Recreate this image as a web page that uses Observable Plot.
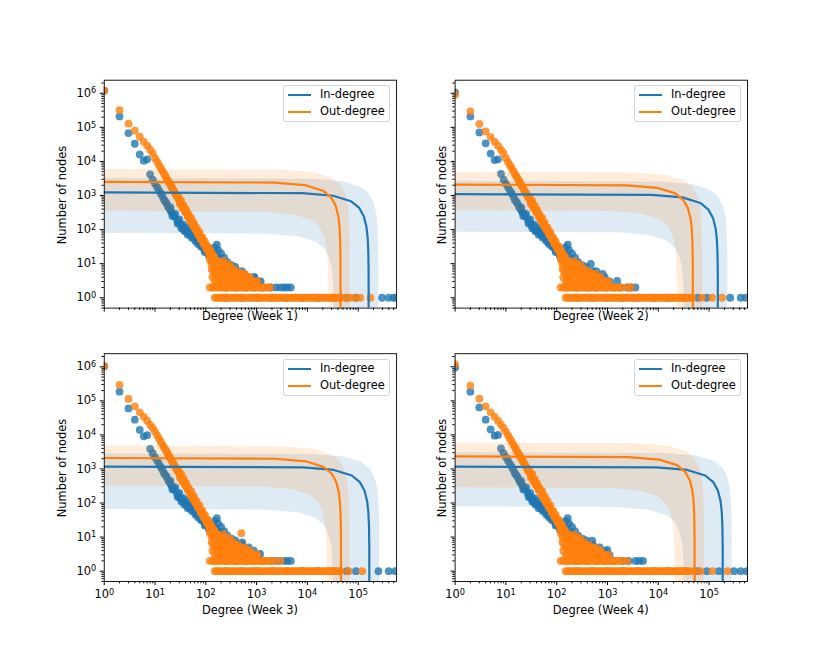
<!DOCTYPE html>
<html>
<head>
<meta charset="utf-8">
<script src="https://cdn.jsdelivr.net/npm/d3@7"></script>
<script src="https://cdn.jsdelivr.net/npm/@observablehq/plot@0.6"></script>
<style>
  html, body { margin: 0; padding: 0; background: #ffffff; }
  #fig { position: relative; width: 830px; height: 664px; overflow: hidden; font-family: "DejaVu Sans", sans-serif; color: #000; background: #fff; }
  #fig svg { position: absolute; }
  .lab { position: absolute; font-size: 11.4px; line-height: 1; white-space: nowrap; transform: translate(-50%, -50%); }
  .ylab { transform: translate(-50%, -50%) rotate(-90deg); }
  .legend { position: absolute; width: 107px; height: 37px; box-sizing: border-box; border: 1px solid rgba(204,204,204,0.8); border-radius: 3px; background: rgba(255,255,255,0.8); font-size: 11.4px; }
  .legend .sw { position: absolute; left: 3.5px; width: 23px; height: 2px; }
  .legend .tx { position: absolute; left: 36px; line-height: 1; transform: translateY(-50%); white-space: nowrap; }
</style>
</head>
<body>
<div id="fig"></div>
<script>
// ---------------- tick values and labels ----------------
const xMajor = [1, 10, 100, 1000, 10000, 100000];
const xMajorLabels = ["10⁰", "10¹", "10²", "10³", "10⁴", "10⁵"];
const xMinor = [2,3,4,5,6,7,8,9, 20,30,40,50,60,70,80,90, 200,300,400,500,600,700,800,900,
  2000,3000,4000,5000,6000,7000,8000,9000, 20000,30000,40000,50000,60000,70000,80000,90000,
  200000,300000,400000,500000];
const yMajor = [1, 10, 100, 1000, 10000, 100000, 1000000];
const yMajorLabels = ["10⁰", "10¹", "10²", "10³", "10⁴", "10⁵", "10⁶"];
const yMinor = [0.5,0.6,0.7,0.8,0.9, 2,3,4,5,6,7,8,9, 20,30,40,50,60,70,80,90,
  200,300,400,500,600,700,800,900, 2000,3000,4000,5000,6000,7000,8000,9000,
  20000,30000,40000,50000,60000,70000,80000,90000, 200000,300000,400000,500000,600000,700000,800000,900000, 2000000];
const xDomain = [1, 570000];
const yDomain = [0.497, 2420000];

const weekLabels = ["Degree (Week 1)", "Degree (Week 2)", "Degree (Week 3)", "Degree (Week 4)"];
const seriesNames = ["In-degree", "Out-degree"];
const yTitle = "Number of nodes";

// ---------------- scatter data: [degree, number of nodes] ----------------
const inHeadW1 = [[1,1.2e6],[2,2.1e5],[3,6.8e4],[4,3.3e4],[5,1.6e4],[6,1.05e4],[7,1.15e4],[8,4200]];
const inHeadW2 = [[1,1.07e6],[2,2.1e5],[3,7.1e4],[4,3.4e4],[5,1.7e4],[6,1.1e4],[7,1.15e4],[8,4300]];
const inHeadW3 = [[1,1.03e6],[2,1.86e5],[3,6.0e4],[4,2.8e4],[5,1.4e4],[6,9100],[7,9800],[8,3900]];
const inHeadW4 = [[1,9.6e5],[2,1.86e5],[3,6.4e4],[4,2.8e4],[5,1.45e4],[6,9500],[7,1.0e4],[8,4000]];

const outHeadW1 = [[1,1.2e6],[2,3.2e5],[3,1.28e5],[4,8e4],[5,5.3e4],[6,3.8e4],[7,2.9e4],[8,2.2e4],[9,1.75e4]];
const outHeadW2 = [[1,9.1e5],[2,2.95e5],[3,1.26e5],[4,7.6e4],[5,5.2e4],[6,3.8e4],[7,2.9e4],[8,2.2e4],[9,1.75e4]];
const outHeadW3 = [[1,1.05e6],[2,2.94e5],[3,1.14e5],[4,6.9e4],[5,4.6e4],[6,3.4e4],[7,2.6e4],[8,2.0e4],[9,1.6e4]];
const outHeadW4 = [[1,1.2e6],[2,2.8e5],[3,1.15e5],[4,6.9e4],[5,4.6e4],[6,3.4e4],[7,2.6e4],[8,2.0e4],[9,1.6e4]];

const inBody = [[9,2900],[10,2200],[11,1750],[12,1400],[13,1150],[14,950],[15,750],[16,660],[17,580],[18,480],[19,420],[20,380],[21,330],[22,300],[24,250],[27,190],[29,165],[31,145],[33,130],[35,115],[37,105],[40,95],[43,88],[45,82],[48,76],[50,72],[53,67],[56,62],[60,57],[63,52],[67,48],[70,45],[74,41],[78,38],[82,34],[87,31],[92,28],[97,26],[102,23],[108,21],[114,19],[120,17],[128,15],[135,14],[143,13],[150,12],[160,11],[170,10],[180,9],[190,8],[200,8],[215,7],[240,6],[270,5],[300,4],[340,4],[380,3]];
const inSpread = [[20,450],[22,250],[25,290],[28,150],[30,200],[33,110],[36,140],[38,90],[42,115],[44,70],[48,95],[53,58],[58,75],[62,46],[66,62],[70,38],[74,52],[80,32],[90,40],[95,22],[100,32],[110,27],[115,17],[125,24],[132,13],[140,22],[150,30],[158,17],[165,36],[175,25],[185,14],[200,20],[210,12],[230,15],[250,9],[265,11],[290,8],[320,9],[350,7],[380,8],[420,6],[460,5],[510,6],[560,5],[620,4],[700,4],[780,3],[880,4],[980,3],[1100,3]];
const inExtraW1 = [[900,4],[1200,3]];
const inExtraW2 = [[470,9.8],[1550,3.1],[600,6],[800,5]];
const inExtraW3 = [[520,7],[1170,3.2],[700,5]];
const inExtraW4 = [[500,7.9],[990,4.2],[700,5]];

const outBody = [[10,12500],[11,9750],[12,7780],[13,6320],[14,5210],[15,4350],[16,3680],[17,3150],[18,2710],[19,2360],[20,2060],[21,1820],[22,1610],[23,1435],[24,1283],[25,1154],[26,1042],[27,945],[28,860],[30,719],[32,608],[34,519],[36,447],[38,389],[40,340],[42,300],[45,251],[48,212],[51,181],[54,156],[57,135],[60,118],[64,100],[68,86],[72,74],[77,62],[82,53],[88,44],[94,37],[100,31],[107,26],[114,22],[122,19],[130,16],[139,13],[149,11],[160,9]];
const outSpread = [[29,900],[31,560],[33,700],[35,430],[37,500],[39,330],[41,380],[44,240],[46,280],[50,175],[52,220],[56,130],[58,160],[62,100],[66,115],[70,72],[75,85],[80,52],[85,60],[90,38],[96,45],[104,27],[110,32],[118,18],[126,23],[135,12],[145,16]];
const outCloud = [[110,30],[118,25],[126,21],[135,18],[145,15],[155,13],[165,12],[178,11],[190,10],[205,9],[220,12],[235,8],[250,10],[265,8],[285,7],[300,9],[320,6],[345,7],[370,6],[400,5],[430,6],[465,5],[500,5],[540,4],[580,5],[630,4],[680,4],[740,4],[800,3],[870,3],[950,3],[1050,3],
  [120,13],[130,10],[140,12],[150,9],[160,8],[175,7],[190,8],[205,6],[220,7],[240,6],[260,6],[280,5],[300,5],[330,5],[360,4],[390,4],[420,4],[460,4],[500,3],[550,3],[600,3],[650,3],[700,3],
  [130,7],[140,6],[150,5],[165,5],[180,4],[195,5],[210,4],[225,4],[245,4],[265,3],[285,4],[310,3],[340,3],[370,3],[400,3],[440,3],
  [135,4],[150,3],[165,3],[180,3],[200,3],[220,3],[240,3]];
const outExtraW3 = [[500,13],[810,3.2],[1000,3]];

// degrees with exactly two nodes
const inTwosW1 = [250,400,600,900,1300,1900,2400,2950,3500,4000,4700];
const inTwosW2 = [250,400,600,900,1300,1800,2450,2900,3550];
const inTwosW3 = [250,400,600,900,1300,2000,2600,3400,4000,4700];
const inTwosW4 = [250,400,600,900,1300,2000,2600,3550,4200,5000];
const outTwosBody = [120,135,150,165,180,200,220,245,270,300,330,365,400,445,490,540,600,660,730,810,900,1000,1100,1220,1350,1500,1650];
const outTwosW1 = [1850];
const outTwosW2 = [1900,2450,2900];
const outTwosW3 = [1900,2300,2950];
const outTwosW4 = [1950,2450];

// degrees with exactly one node
const inOnesBody = [250,500,1000,2000,4000,8000,16000,32000,60000,90000];
const inOnesW1 = [295000,400000,500000,570000];
const inOnesW2 = [260000,420000,530000];
const inOnesW3 = [250000,400000,540000];
const inOnesW4 = [155000,310000,420000,560000];
const outOnesBody = [150,165,182,200,220,242,266,293,322,354,390,429,472,519,571,628,690,760,835,920,1010,1110,1220,1345,1480,1630,1790,1970,2170,2380,2620,2880,3170,3490,3840,4220,4640,5110,5620,6180,6800,7480,8220,9050,9950,10950,12050,13250,14600,16000,17600,19400,21300,23500,25800,28400,31200,34400,37800,41600];
const outOnesW1 = [46000,57000,70000,87000,110000,174000];
const outOnesW2 = [47000,73000,115000,180000];
const outOnesW3 = [45000,65000,120000];
const outOnesW4 = [50000,68000,115000,230000];

// ---------------- regression fit lines and confidence bands ----------------
const inFitW1 = [[1,1230],[8050,1169],[32200,984],[72450,677],[104650,431],[128800,246],[144900,123],[152950,61.5],[157780,24.6],[160195,6.2],[161000,0.01]];
const inLoW1 = [[1,80],[1650,76],[6600,64],[14850,44],[21450,28],[26400,16],[29700,8],[31350,4],[32340,1.6],[32835,0.4],[33000,0.01]];
const inHiW1 = [[1,3250],[12500,3088],[50000,2600],[112500,1788],[162500,1138],[200000,650],[225000,325],[237500,163],[245000,65],[248750,16],[250000,0.01]];
const outFitW1 = [[1,2520],[2250,2394],[9000,2016],[20250,1386],[29250,882],[36000,504],[40500,252],[42750,126],[44100,50],[44775,12.6],[45000,0.01]];
const outLoW1 = [[1,350],[1300,333],[5200,280],[11700,193],[16900,123],[20800,70],[23400,35],[24700,17.5],[25480,7],[25870,1.75],[26000,0.01]];
const outHiW1 = [[1,6000],[3400,5700],[13600,4800],[30600,3300],[44200,2100],[54400,1200],[61200,600],[64600,300],[66640,120],[67660,30],[68000,0.01]];

const inFitW2 = [[1,1100],[7450,1045],[29800,880],[67050,605],[96850,385],[119200,220],[134100,110],[141550,55],[146020,22],[148255,5.5],[149000,0.01]];
const inLoW2 = [[1,87],[1600,83],[6400,70],[14400,48],[20800,30],[25600,17],[28800,8.7],[30400,4.4],[31360,1.7],[31840,0.44],[32000,0.01]];
const inHiW2 = [[1,2700],[11500,2565],[46000,2160],[103500,1485],[149500,945],[184000,540],[207000,270],[218500,135],[225400,54],[228850,13.5],[230000,0.01]];
const outFitW2 = [[1,2100],[2400,1995],[9600,1680],[21600,1155],[31200,735],[38400,420],[43200,210],[45600,105],[47040,42],[47760,10.5],[48000,0.01]];
const outLoW2 = [[1,370],[1175,352],[4700,296],[10575,204],[15275,130],[18800,74],[21150,37],[22325,18.5],[23030,7.4],[23383,1.85],[23500,0.01]];
const outHiW2 = [[1,5000],[3650,4750],[14600,4000],[32850,2750],[47450,1750],[58400,1000],[65700,500],[69350,250],[71540,100],[72635,25],[73000,0.01]];

const inFitW3 = [[1,1170],[8300,1112],[33200,936],[74700,644],[107900,410],[132800,234],[149400,117],[157700,58.5],[162680,23.4],[165170,5.85],[166000,0.01]];
const inLoW3 = [[1,67],[1600,64],[6400,54],[14400,37],[20800,23],[25600,13.4],[28800,6.7],[30400,3.4],[31360,1.3],[31840,0.34],[32000,0.01]];
const inHiW3 = [[1,2900],[13000,2755],[52000,2320],[117000,1595],[169000,1015],[208000,580],[234000,290],[247000,145],[254800,58],[258700,14.5],[260000,0.01]];
const outFitW3 = [[1,2100],[2300,1995],[9200,1680],[20700,1155],[29900,735],[36800,420],[41400,210],[43700,105],[45080,42],[45770,10.5],[46000,0.01]];
const outLoW3 = [[1,325],[1200,309],[4800,260],[10800,179],[15600,114],[19200,65],[21600,32.5],[22800,16.3],[23520,6.5],[23880,1.6],[24000,0.01]];
const outHiW3 = [[1,4850],[3350,4608],[13400,3880],[30150,2668],[43550,1698],[53600,970],[60300,485],[63650,243],[65660,97],[66665,24],[67000,0.01]];

const inFitW4 = [[1,1170],[9300,1112],[37200,936],[83700,644],[120900,410],[148800,234],[167400,117],[176700,58.5],[182280,23.4],[185070,5.85],[186000,0.01]];
const inLoW4 = [[1,80],[1600,76],[6400,64],[14400,44],[20800,28],[25600,16],[28800,8],[30400,4],[31360,1.6],[31840,0.4],[32000,0.01]];
const inHiW4 = [[1,3100],[14000,2945],[56000,2480],[126000,1705],[182000,1085],[224000,620],[252000,310],[266000,155],[274400,62],[278600,15.5],[280000,0.01]];
const outFitW4 = [[1,2350],[2600,2233],[10400,1880],[23400,1293],[33800,823],[41600,470],[46800,235],[49400,118],[50960,47],[51740,11.8],[52000,0.01]];
const outLoW4 = [[1,290],[1050,276],[4200,232],[9450,160],[13650,102],[16800,58],[18900,29],[19950,14.5],[20580,5.8],[20895,1.45],[21000,0.01]];
const outHiW4 = [[1,6000],[3950,5700],[15800,4800],[35550,3300],[51350,2100],[63200,1200],[71100,600],[75050,300],[77420,120],[78605,30],[79000,0.01]];

// ---------------- assemble per-panel tables ----------------
const blue = "#1f77b4", orange = "#ff7f0e";
const asRow = (count) => (x) => [x, count];
const panels = [
  {label: weekLabels[0],
   inPts: [...inOnesBody.map(asRow(1)), ...inOnesW1.map(asRow(1)), ...inTwosW1.map(asRow(2)), ...inHeadW1, ...inBody, ...inSpread, ...inExtraW1],
   outPts: [...outOnesBody.map(asRow(1)), ...outOnesW1.map(asRow(1)), ...outTwosBody.map(asRow(2)), ...outTwosW1.map(asRow(2)), ...outHeadW1, ...outBody, ...outSpread, ...outCloud],
   inFit: inFitW1, inLo: inLoW1, inHi: inHiW1, outFit: outFitW1, outLo: outLoW1, outHi: outHiW1},
  {label: weekLabels[1],
   inPts: [...inOnesBody.map(asRow(1)), ...inOnesW2.map(asRow(1)), ...inTwosW2.map(asRow(2)), ...inHeadW2, ...inBody, ...inSpread, ...inExtraW2],
   outPts: [...outOnesBody.map(asRow(1)), ...outOnesW2.map(asRow(1)), ...outTwosBody.map(asRow(2)), ...outTwosW2.map(asRow(2)), ...outHeadW2, ...outBody, ...outSpread, ...outCloud],
   inFit: inFitW2, inLo: inLoW2, inHi: inHiW2, outFit: outFitW2, outLo: outLoW2, outHi: outHiW2},
  {label: weekLabels[2],
   inPts: [...inOnesBody.map(asRow(1)), ...inOnesW3.map(asRow(1)), ...inTwosW3.map(asRow(2)), ...inHeadW3, ...inBody, ...inSpread, ...inExtraW3],
   outPts: [...outOnesBody.map(asRow(1)), ...outOnesW3.map(asRow(1)), ...outTwosBody.map(asRow(2)), ...outTwosW3.map(asRow(2)), ...outHeadW3, ...outBody, ...outSpread, ...outCloud, ...outExtraW3],
   inFit: inFitW3, inLo: inLoW3, inHi: inHiW3, outFit: outFitW3, outLo: outLoW3, outHi: outHiW3},
  {label: weekLabels[3],
   inPts: [...inOnesBody.map(asRow(1)), ...inOnesW4.map(asRow(1)), ...inTwosW4.map(asRow(2)), ...inHeadW4, ...inBody, ...inSpread, ...inExtraW4],
   outPts: [...outOnesBody.map(asRow(1)), ...outOnesW4.map(asRow(1)), ...outTwosBody.map(asRow(2)), ...outTwosW4.map(asRow(2)), ...outHeadW4, ...outBody, ...outSpread, ...outCloud],
   inFit: inFitW4, inLo: inLoW4, inHi: inHiW4, outFit: outFitW4, outLo: outLoW4, outHi: outHiW4}
];

// ---------------- layout ----------------
const cols = [{left: 0, w: 425, fl: 103.75, fr: 396.1, ylabX: 63.3}, {left: 425, w: 405, fl: 454.6, fr: 747, ylabX: 443.3}];
const rows = [{top: 0, h: 330, ft: 79.7, fb: 307.6, xlabY: 316.7}, {top: 330, h: 334, ft: 353.2, fb: 581, xlabY: 610.7}];

const fig = document.getElementById("fig");
const xLab = new Map(xMajor.map((v, i) => [v, xMajorLabels[i]]));
const yLab = new Map(yMajor.map((v, i) => [v, yMajorLabels[i]]));
const X = d => d[0], Y = d => d[1];
const supers = "⁰¹²³⁴⁵⁶⁷⁸⁹";

function place(svg, C, R) {
  svg.style.position = "absolute";
  svg.style.left = C.left + "px";
  svg.style.top = R.top + "px";
  fig.appendChild(svg);
}

// render "10ⁿ" tick labels as 10 with a raised, smaller exponent (like mathtext)
function raiseExponents(svg) {
  svg.querySelectorAll("text").forEach(t => {
    const s = t.textContent;
    const m = /^10([⁰¹²³⁴⁵⁶⁷⁸⁹])$/.exec(s);
    if (!m) return;
    const digit = String(supers.indexOf(m[1]));
    t.textContent = "10";
    const ts = document.createElementNS("http://www.w3.org/2000/svg", "tspan");
    ts.setAttribute("dy", "-0.42em");
    ts.setAttribute("font-size", "0.72em");
    ts.textContent = digit;
    t.appendChild(ts);
  });
}

function baseOpts(C, R) {
  return {
    width: C.w, height: R.h,
    marginLeft: C.fl - C.left, marginRight: C.left + C.w - C.fr,
    marginTop: R.ft - R.top, marginBottom: R.top + R.h - R.fb,
    style: {background: "none", overflow: "visible", fontFamily: "'DejaVu Sans', sans-serif", fontSize: "11.4px", color: "#000", maxWidth: "none"}
  };
}

panels.forEach((p, k) => {
  const C = cols[k % 2], R = rows[Math.floor(k / 2)];
  const showX = Math.floor(k / 2) === 1, showY = k % 2 === 0;
  const band = (hi, lo) => [...hi, ...lo.slice().reverse()];

  const main = Plot.plot({
    ...baseOpts(C, R),
    x: {type: "log", domain: xDomain, label: null, ticks: xMajor, tickSize: 4, tickPadding: 4.5,
        tickFormat: d => showX ? (xLab.get(d) ?? "") : ""},
    y: {type: "log", domain: yDomain, label: null, ticks: yMajor, tickSize: 4, tickPadding: 4,
        tickFormat: d => showY ? (yLab.get(d) ?? "") : ""},
    marks: [
      Plot.dot(p.inPts, {x: X, y: Y, r: 3.9, fill: blue, fillOpacity: 0.8, stroke: "none", clip: true}),
      Plot.line(band(p.inHi, p.inLo), {x: X, y: Y, fill: blue, fillOpacity: 0.15, stroke: "none", clip: true}),
      Plot.dot(p.outPts, {x: X, y: Y, r: 3.9, fill: orange, fillOpacity: 0.8, stroke: "none", clip: true}),
      Plot.line(band(p.outHi, p.outLo), {x: X, y: Y, fill: orange, fillOpacity: 0.15, stroke: "none", clip: true}),
      Plot.line(p.inFit, {x: X, y: Y, stroke: blue, strokeWidth: 2.2, clip: true}),
      Plot.line(p.outFit, {x: X, y: Y, stroke: orange, strokeWidth: 2.2, clip: true}),
      Plot.frame({stroke: "#000", strokeWidth: 0.9})
    ]
  });
  raiseExponents(main);
  place(main, C, R);

  // minor ticks overlay, same scales
  const minor = Plot.plot({
    ...baseOpts(C, R),
    x: {type: "log", domain: xDomain, label: null, ticks: xMinor, tickSize: 2.3, tickFormat: () => ""},
    y: {type: "log", domain: yDomain, label: null, ticks: yMinor, tickSize: 2.3, tickFormat: () => ""},
    marks: [Plot.dot([[1, 1]], {x: X, y: Y, r: 1, fill: "none", stroke: "none"})]
  });
  place(minor, C, R);

  // axis titles
  const xl = document.createElement("div");
  xl.className = "lab";
  xl.textContent = p.label;
  xl.style.left = ((C.fl + C.fr) / 2) + "px";
  xl.style.top = R.xlabY + "px";
  fig.appendChild(xl);

  const yl = document.createElement("div");
  yl.className = "lab ylab";
  yl.textContent = yTitle;
  yl.style.left = C.ylabX + "px";
  yl.style.top = ((R.ft + R.fb) / 2 + 1) + "px";
  fig.appendChild(yl);

  // legend (upper right)
  const lg = document.createElement("div");
  lg.className = "legend";
  lg.style.left = Math.round(C.fr - 113.1) + "px";
  lg.style.top = Math.round(R.ft + 5.3) + "px";
  [[blue, seriesNames[0], 9], [orange, seriesNames[1], 26]].forEach(([c, name, cy]) => {
    const sw = document.createElement("div");
    sw.className = "sw"; sw.style.background = c; sw.style.top = (cy - 1) + "px";
    const tx = document.createElement("div");
    tx.className = "tx"; tx.textContent = name; tx.style.top = cy + "px";
    lg.appendChild(sw); lg.appendChild(tx);
  });
  fig.appendChild(lg);
});
</script>
</body>
</html>
